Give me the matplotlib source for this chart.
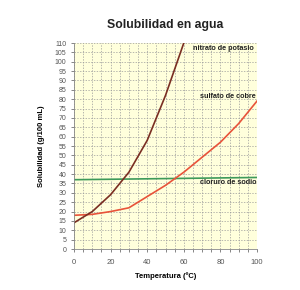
import matplotlib
matplotlib.use("Agg")
import matplotlib.pyplot as plt
import numpy as np

plt.rcParams['font.family'] = ['Liberation Sans', 'DejaVu Sans']

temp_kno3 = [0, 10, 20, 30, 40, 50, 60]
sol_kno3 = [14, 20, 29, 41, 58, 82, 110]
temp_cuso4 = [0, 10, 20, 30, 40, 50, 60, 70, 80, 90, 100]
sol_cuso4 = [18, 18.5, 20, 22, 28, 34, 41, 49, 57, 67, 79]
temp_nacl = [0, 100]
sol_nacl = [37, 38.2]
labels = ["nitrato de potasio", "sulfato de cobre", "cloruro de sodio"]

fig = plt.figure(figsize=(3.0, 2.9), dpi=100)
ax = fig.add_axes([74/300, 1-249/290, (257-74)/300, (249-43)/290])
ax.set_facecolor('#FFFFDC')

ax.plot(temp_nacl, sol_nacl, color='#3E9A5A', lw=1.2)
ax.plot(temp_cuso4, sol_cuso4, color='#E8533A', lw=1.2)
ax.plot(temp_kno3, sol_kno3, color='#7A2E22', lw=1.2)

ax.set_xlim(0, 100)
ax.set_ylim(0, 110)
ax.set_xticks(np.arange(0, 101, 20))
ax.set_xticks(np.arange(0, 101, 5), minor=True)
ax.set_yticks(np.arange(0, 111, 5))
ax.grid(True, which='both', color='#9A9A9A', ls=(0, (2, 2)), lw=0.5)
ax.tick_params(axis='both', which='both', labelsize=5, colors='#555555', length=2, width=0.5)
ax.tick_params(axis='x', which='major', pad=5, labelsize=5.5)
for s in ['top', 'right']:
    ax.spines[s].set_visible(False)
for s in ['left', 'bottom']:
    ax.spines[s].set_color('#888888')
    ax.spines[s].set_linewidth(0.6)

ax.text(98, 107, labels[0], fontsize=5.2, fontweight='bold', ha='right', va='center', color='#222222')
ax.text(99.5, 81.5, labels[1], fontsize=5.2, fontweight='bold', ha='right', va='center', color='#222222')
ax.text(100, 35.5, labels[2], fontsize=5.2, fontweight='bold', ha='right', va='center', color='#222222')

ax.set_xlabel('Temperatura (ºC)', fontsize=5.5, fontweight='bold', labelpad=5)
ax.set_ylabel('Solubilidad (g/100 mL)', fontsize=5.5, fontweight='bold', labelpad=7)
fig.text(165/300, 1-25/290, 'Solubilidad en agua', ha='center', va='center', fontsize=8.8, fontweight='bold', color='#222222')

fig.savefig('out.png', dpi=100)
